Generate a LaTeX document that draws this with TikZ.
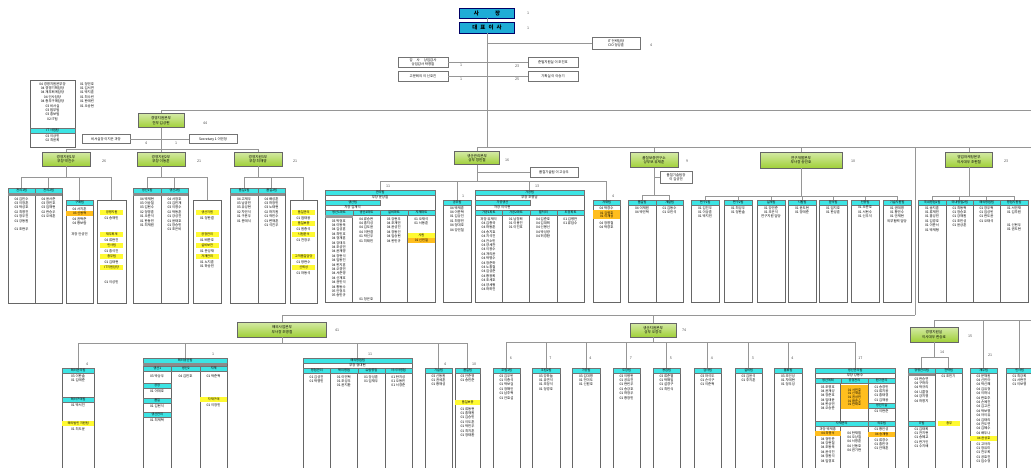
\documentclass[tikz,border=0pt]{standalone}
\usepackage{fontspec}
\setmainfont{Noto Sans CJK KR}

\definecolor{topblue}{RGB}{30,172,214}
\definecolor{hdrcyan}{RGB}{60,228,228}
\definecolor{divgreen}{RGB}{160,208,56}
\definecolor{hiyellow}{RGB}{255,250,50}
\definecolor{hiorange}{RGB}{255,190,30}
\definecolor{wiregray}{RGB}{150,150,150}

\tikzset{
  txt/.style={font=\fontsize{3.4}{3.8}\selectfont, inner sep=0pt, text=black},
  num/.style={font=\fontsize{3.6}{4}\selectfont, inner sep=0pt, text=black!70},
  ceobox/.style={draw=blue!40!black, fill=topblue, minimum width=55pt, minimum height=10pt, inner sep=0pt, font=\fontsize{5.5}{6}\selectfont\bfseries},
  divbox/.style={draw=black!60, top color=divgreen!45!white, bottom color=divgreen, align=center, inner sep=0pt, minimum height=14pt, font=\fontsize{3.6}{4.4}\selectfont},
  staffbox/.style={draw=black!55, fill=white, align=center, inner sep=0pt, minimum height=10pt, font=\fontsize{3.4}{4}\selectfont},
  colbox/.style={draw=black!60, fill=white, inner sep=0pt, line width=0.5pt},
  hdrbox/.style={draw=black!55, fill=hdrcyan, inner sep=0pt, minimum height=5pt, font=\fontsize{3.2}{3.6}\selectfont},
  hibox/.style={inner sep=0pt, minimum height=5pt, align=center, font=\fontsize{3.2}{3.6}\selectfont},
  wire/.style={draw=wiregray, line width=0.6pt},
  colline/.style={draw=black!60, line width=0.4pt},
}

% a team column with its cyan header
\newcommand{\teamcol}[6]{%
  \node[colbox, anchor=north west, minimum width=#4pt, minimum height=#5pt] (#1) at (#2,#3) {};
  \node[hdrbox, anchor=north west, minimum width=#4pt] (#1h) at (#2,#3) {#6};}
% a coloured bar inside a column
\newcommand{\hibar}[6]{%
  \node[hibox, fill=#5, anchor=north west, minimum width=#4pt] (#1) at (#2,#3) {#6};}
% the staff lines of a column
\newcommand{\members}[4]{%
  \foreach \nm [count=\k] in {#4}
    \node[txt, anchor=north] (#1-\k) at (#2,{#3+(\k-1)*4.4}) {\nm};}

\begin{document}
\begin{tikzpicture}[x=1pt, y=-1pt]
        \fill[white] (0,0) rectangle (1031,467);
        \useasboundingbox (0,0) rectangle (1031,467);

        % Top management
        \node[ceobox] (pres) at (487,13) {사\hspace{16pt}장};
        \node[num] (pres-n) at (528,13) {1};
        \node[ceobox, minimum height=11pt] (ceo) at (487,27.5) {대\hspace{3pt}표\hspace{3pt}이\hspace{3pt}사};
        \node[num] (ceo-n) at (528,28) {1};

        % Staff of the CEO
        \node[staffbox, minimum width=48pt, minimum height=12pt] (cio) at (616,43) {IT 전략담당\\CIO 정성훈};
        \node[num] (cio-n) at (651,45) {4};
        \node[staffbox, minimum width=50pt] (audit) at (423,62) {감\hspace{4pt}사\hspace{4pt}상임감사\\상임감사 박영철};
        \node[staffbox, minimum width=50pt] (advisor) at (423,76) {고문회의 이 신호진};
        \node[staffbox, minimum width=50pt] (ethics) at (553,62) {준법지원실 이 조진호};
        \node[staffbox, minimum width=50pt] (planning) at (553,76) {기획실 이 이승기};
        \node[num] (audit-n) at (461,65) {1};
        \node[num] (advisor-n) at (461,79) {1};
        \node[num] (ethics-n) at (517,66) {23};
        \node[num] (planning-n) at (517,79) {25};

        % Trunk and main buses
        \coordinate (top-bus) at (487,110);
        \coordinate (mid-bus) at (487,147);
        \coordinate (top-end) at (1031,110);
        \coordinate (mid-end) at (1031,147);
        \coordinate (down-top) at (915,147);
        \coordinate (down-bot) at (915,315);
        \draw[wire] (pres) -- (ceo);
        \draw[wire] (ceo) -- (mid-bus);
        \draw[wire] (cio.west) -- (cio.west -| ceo.south);
        \draw[wire] (audit) -- (ethics);
        \draw[wire] (advisor) -- (planning);
        \draw[wire] (top-bus) -- (top-end);
        \draw[wire] (mid-bus) -- (mid-end);
        \draw[wire] (down-top) -- (down-bot);

        % Legend of the management division
        \node[colbox, anchor=north west, minimum width=45pt, minimum height=67pt] (legend) at (30,80) {};
        \members{leg}{52.5}{82}{04 경영지원본부장, 04 경영기획담당, 04 재무회계담당, 04 인사담당, 04 총무구매담당, 03 비서실, 03 법무팀, 03 홍보팀, 02 IT팀}
        \node[hdrbox, anchor=north west, minimum width=45pt] (leg-hdr) at (30,128) {IT 사업팀};
        \members{legb}{52.5}{134}{03 이상민, 02 최윤희}
        \members{legr}{87}{82}{01 정민호, 01 김서연, 01 박지훈, 01 최수빈, 01 한예린, 01 오승현}

        % Management division
        \node[divbox, minimum width=46pt] (mgmt) at (161,120.5) {경영지원본부\\전무 김상현};
        \node[num] (mgmt-n) at (205,123) {44};
        \draw[wire] (top-bus) -| (mgmt);
        \node[staffbox, minimum width=48pt, minimum height=9pt] (secchief) at (106,139) {비서실장 이지은 과장};
        \node[staffbox, minimum width=48pt, minimum height=9pt] (secy) at (213,139) {Secretary 1 이민정};
        \draw[wire] (secchief) -- (secy);
        \node[num] (secchief-n) at (146,143) {4};
        \node[num] (secy-n) at (176,143) {1};

        \node[divbox, minimum width=48pt] (sd1) at (66,159) {경영지원1부\\부장 박진수};
        \node[divbox, minimum width=48pt] (sd2) at (161,159) {경영지원2부\\부장 이동훈};
        \node[divbox, minimum width=48pt] (sd3) at (258,159) {경영지원3부\\부장 최재영};
        \node[num] (sd1-n) at (104,161) {26};
        \node[num] (sd2-n) at (199,161) {21};
        \node[num] (sd3-n) at (295,161) {21};
        \coordinate (bus-sd) at (161,149);
        \draw[wire] (mgmt) -- (sd2);
        \draw[wire] (bus-sd) -| (sd1);
        \draw[wire] (bus-sd) -| (sd3);

        % Teams of the first department
        \teamcol{a1}{8}{188}{27}{115}{관리1팀}
        \teamcol{a2}{35}{188}{27}{115}{관리2팀}
        \node[hibox, fill=black!45, anchor=north west, minimum width=54pt, minimum height=2.5pt] (a-gray) at (8,193) {};
        \members{a1}{21.5}{197}{04 김민수, 03 이정훈, 03 박성호, 02 최영진, 01 정우진, 01 강동원}
        \members{a1b}{21.5}{227}{01 조현우}
        \members{a2}{48.5}{197}{04 윤서준, 03 장민호, 03 임재현, 02 한승우, 01 오세훈}
        \teamcol{a3}{66}{200}{27}{103}{구매팀}
        \members{a3}{79.5}{207}{04 서지훈}
        \hibar{a3o}{66}{211}{27}{hiorange}{03 신동혁}
        \members{a3b}{79.5}{217}{04 권혁준, 04 황보람}
        \members{a3c}{79.5}{232}{과장 안성민}
        \node[colbox, anchor=north west, minimum width=29pt, minimum height=103pt] (a4) at (97,200) {};
        \hibar{a4y1}{100}{210}{23}{hiyellow}{경영지원}
        \members{a4a}{111.5}{216}{01 송재민}
        \hibar{a4y2}{100}{232}{23}{hiyellow}{재무회계}
        \members{a4b}{111.5}{238}{04 류현진}
        \hibar{a4y3}{100}{243}{23}{hiyellow}{인사팀}
        \members{a4c}{111.5}{249}{01 홍석진}
        \hibar{a4y4}{100}{254}{23}{hiyellow}{총무팀}
        \members{a4d}{111.5}{260}{01 김태현}
        \hibar{a4y5}{100}{265}{23}{hiyellow}{IT지원담당}
        \members{a4e}{111.5}{280}{01 이성민}
        \coordinate (bus-a) at (66,177);
        \draw[wire] (sd1) -- (bus-a);
        \draw[wire] (bus-a) -| (a1h);
        \draw[wire] (bus-a) -| (a2h);
        \draw[wire] (bus-a) -| (a3h);
        \draw[wire] (bus-a) -| (a4);

        % Teams of the second department
        \teamcol{b1}{133}{188}{28}{115}{생산1팀}
        \teamcol{b2}{161}{188}{27}{115}{생산2팀}
        \node[hibox, fill=black!45, anchor=north west, minimum width=55pt, minimum height=2.5pt] (b-gray) at (133,193) {};
        \members{b1}{147}{197}{04 박재현, 03 이승철, 03 김현수, 02 정영훈, 01 오준석, 01 한동민, 01 최재원}
        \members{b2}{174.5}{197}{04 서정호, 03 김민재, 03 이영수, 02 박동훈, 01 강성진, 01 윤태호, 01 장승민, 01 조은비}
        \node[colbox, anchor=north west, minimum width=28pt, minimum height=103pt] (b3) at (193,200) {};
        \hibar{b3y1}{195.5}{210}{23}{hiyellow}{생산지원}
        \members{b3a}{207}{216}{01 정한결}
        \hibar{b3y2}{195.5}{232}{23}{hiyellow}{공정관리}
        \members{b3b}{207}{238}{01 배준호}
        \hibar{b3y3}{195.5}{243}{23}{hiyellow}{설비보전}
        \members{b3c}{207}{249}{01 문성재}
        \hibar{b3y4}{195.5}{254}{23}{hiyellow}{자재관리}
        \members{b3d}{207}{260}{01 노지훈, 01 하승민}
        \coordinate (bus-b) at (161,177);
        \draw[wire] (sd2) -- (bus-b);
        \draw[wire] (bus-b) -| (b1h);
        \draw[wire] (bus-b) -| (b2h);
        \draw[wire] (bus-b) -| (b3);

        % Teams of the third department
        \teamcol{c1}{230}{188}{28}{115}{품질1팀}
        \teamcol{c2}{258}{188}{27}{115}{품질2팀}
        \node[hibox, fill=black!45, anchor=north west, minimum width=55pt, minimum height=2.5pt] (c-gray) at (230,193) {};
        \members{c1}{244}{197}{04 고재우, 03 남궁민, 03 유성현, 02 차민석, 01 구본우, 01 문태식}
        \members{c2}{271.5}{197}{04 배성훈, 03 허정민, 03 노태현, 02 하지원, 01 곽민수, 01 변재훈, 01 석진우}
        \node[colbox, anchor=north west, minimum width=27pt, minimum height=103pt] (c3) at (290,200) {};
        \hibar{c3y1}{292}{210}{23}{hiyellow}{품질관리}
        \members{c3a}{303.5}{216}{01 엄태웅}
        \hibar{c3y2}{292}{221}{23}{hiyellow}{품질보증}
        \members{c3b}{303.5}{227}{01 원종석}
        \hibar{c3y3}{292}{232}{23}{hiyellow}{시험분석}
        \members{c3c}{303.5}{238}{01 천정우}
        \hibar{c3y4}{292}{254}{23}{hiyellow}{고객품질담당}
        \members{c3d}{303.5}{260}{01 방현수}
        \hibar{c3y5}{292}{265}{23}{hiyellow}{신뢰성}
        \members{c3e}{303.5}{271}{01 마동석}
        \coordinate (bus-c) at (258,177);
        \draw[wire] (sd3) -- (bus-c);
        \draw[wire] (bus-c) -| (c1h);
        \draw[wire] (bus-c) -| (c2h);
        \draw[wire] (bus-c) -| (c3);

        % Production division
        \node[divbox, minimum width=45pt, minimum height=13pt] (prod) at (477,158) {생산관리본부\\상무 정민철};
        \node[num] (prod-n) at (507,160) {16};
        \draw[wire] (mid-bus) -| (prod);
        \node[staffbox, minimum width=48pt, minimum height=10pt] (qa) at (554,172) {품질기술팀 이 고상우};
        \draw[wire] (qa.west) -- (qa.west -| prod.south);

        \node[colbox, anchor=north west, minimum width=110pt, minimum height=112pt] (d1) at (325,190) {};
        \draw[colline] (352.5,215) -- (352.5,302);
        \draw[colline] (380,215) -- (380,302);
        \draw[colline] (407.5,215) -- (407.5,302);
        \node[hdrbox, anchor=north west, minimum width=110pt] (d1h) at (325,190) {관리팀};
        \node[txt] (d1-head) at (380,197.5) {부장 윤상철};
        \node[hdrbox, anchor=north west, minimum width=55pt] (d1s) at (325,200) {생산팀};
        \node[txt] (d1s-head) at (352.5,207.5) {차장 김재석};
        \node[hdrbox, anchor=north west, minimum width=27.5pt] (d1c1) at (325,210) {생산1파트};
        \node[hdrbox, anchor=north west, minimum width=27.5pt] (d1c2) at (352.5,210) {생산2파트};
        \node[hdrbox, anchor=north west, minimum width=27.5pt] (d1c3) at (380,210) {설비파트};
        \node[hdrbox, anchor=north west, minimum width=27.5pt] (d1c4) at (407.5,210) {자재파트};
        \node[hibox, fill=black!40, anchor=north west, minimum width=27.5pt, minimum height=3pt] (d1g) at (325,215) {};
        \members{d1a}{338.75}{219}{03 박정호, 04 이동욱, 04 김성훈, 04 최민호, 04 정재훈, 04 강태우, 04 조성민, 04 윤재영, 04 장현석, 04 임동진, 04 한지훈, 04 오경민, 04 서준영, 04 신재호, 04 권민석, 04 황동수, 05 안정우, 05 송민규}
        \members{d1b}{366.25}{217}{04 류승완, 04 홍지성, 04 김도윤, 04 이한결, 01 박선우, 01 최태민}
        \members{d1b2}{366.25}{297}{01 정은호}
        \members{d1c}{393.75}{217}{03 강현우, 04 조재민, 04 윤성진, 04 장동건, 04 임승현, 04 한민규}
        \members{d1d}{421.25}{217}{01 오재석, 01 서동훈}
        \hibar{d1y}{407.5}{233}{27.5}{hiyellow}{사원}
        \hibar{d1o}{407.5}{238}{27.5}{hiorange}{01 신민철}

        \teamcol{d2}{443}{200}{28}{102}{공무팀}
        \members{d2}{457}{206}{04 박재훈, 04 이준혁, 01 김상진, 01 최영민, 04 정대호, 04 강민철}

        \node[colbox, anchor=north west, minimum width=109pt, minimum height=112pt] (d3) at (475,190) {};
        \draw[colline] (502.25,215) -- (502.25,302);
        \draw[colline] (529.5,215) -- (529.5,302);
        \draw[colline] (556.75,215) -- (556.75,302);
        \node[hdrbox, anchor=north west, minimum width=109pt] (d3h) at (475,190) {가공팀};
        \node[txt] (d3-head) at (529.5,197.5) {부장 조영남};
        \node[hdrbox, anchor=north west, minimum width=54.5pt] (d3s) at (475,200) {가공생산};
        \node[txt] (d3s-head) at (502.25,207.5) {차장 이석현};
        \node[hdrbox, anchor=north west, minimum width=27.25pt] (d3c1) at (475,210) {가공1파트};
        \node[hdrbox, anchor=north west, minimum width=27.25pt] (d3c2) at (502.25,210) {가공2파트};
        \node[hdrbox, anchor=north west, minimum width=27.25pt] (d3c3) at (529.5,210) {열처리};
        \node[hdrbox, anchor=north west, minimum width=27.25pt] (d3c4) at (556.75,210) {도장파트};
        \members{d3a}{488.6}{217}{과장 유재석, 04 김종국, 04 하동훈, 04 송지효, 04 지석진, 04 전소민, 04 양세찬, 04 이광수, 04 개리윤, 04 박명수, 04 정준하, 04 노홍철, 04 길성준, 04 황광희, 04 조세호, 04 양세형, 04 하하진}
        \members{d3b}{515.9}{217}{01 남창희, 01 이용진, 01 이진호}
        \members{d3c}{543.1}{217}{04 김준호, 04 김대희, 04 신봉선, 04 박성광, 04 허경환}
        \members{d3d}{570.4}{217}{01 김병만, 01 류담수}

        \teamcol{d4}{593}{200}{27}{102}{자재팀}
        \members{d4a}{606.5}{206}{04 박경수}
        \node[hibox, fill=hiorange, anchor=north west, minimum width=27pt, minimum height=9pt] (d4o) at (593,210) {01 김영호\\01 이재성};
        \members{d4b}{606.5}{221}{04 정영철, 04 박경호}

        \coordinate (bus-d) at (477,181);
        \draw[wire] (prod) -- (bus-d);
        \draw[wire] (bus-d) -| (d1h);
        \draw[wire] (bus-d) -| (d2h);
        \draw[wire] (bus-d) -| (d3h);
        \draw[wire] (bus-d) -| (d4h);
        \node[num] (d1-n) at (388,186) {11};
        \node[num] (d2-n) at (463,196) {1};
        \node[num] (d3-n) at (537,186) {13};
        \node[num] (d4-n) at (613,196) {4};

        % Quality institute
        \node[divbox, minimum width=48pt, minimum height=15pt] (qual) at (654,160) {품질보증연구소\\상무보 유재훈};
        \node[num] (qual-n) at (687,161) {9};
        \draw[wire] (mid-bus) -| (qual);
        \node[staffbox, minimum width=32pt, minimum height=12pt] (qtech) at (676,177) {품질기술팀장\\이 김성민};
        \draw[wire] (qtech.west) -- (qtech.west -| qual.south);
        \teamcol{e1}{628}{200}{28}{102}{품질팀}
        \teamcol{e2}{656}{200}{27}{102}{개발팀}
        \members{e1}{642}{206}{04 이재원, 04 박민혁}
        \members{e2}{669.5}{206}{01 김동수, 01 오민석}
        \coordinate (bus-e) at (654,195);
        \draw[wire] (qual) -- (bus-e);
        \draw[wire] (bus-e) -| (e1h);
        \draw[wire] (bus-e) -| (e2h);

        % R&D division
        \node[divbox, minimum width=82pt, minimum height=16pt] (rnd) at (801,160) {연구개발본부\\부사장 송민호};
        \node[num] (rnd-n) at (853,161) {10};
        \draw[wire] (mid-bus) -| (rnd);
        \teamcol{f1}{691}{200}{28}{102}{연구1팀}
        \teamcol{f2}{724}{200}{28}{102}{연구2팀}
        \teamcol{f3}{757}{200}{28}{102}{설계팀}
        \teamcol{f4}{788}{200}{28}{102}{시험팀}
        \teamcol{f5}{819}{200}{28}{102}{분석팀}
        \teamcol{f6}{851}{200}{28}{102}{인증팀}
        \teamcol{f7}{883}{200}{28}{102}{기술지원팀}
        \members{f1}{705}{206}{01 김진우, 01 이상훈, 01 박지민}
        \members{f2}{738}{206}{01 최성우, 01 정한솔}
        \members{f3}{771}{206}{01 강민준, 01 조은석, 연구지원 담당}
        \members{f4}{802}{206}{01 윤도현, 01 장태준}
        \members{f5}{833}{206}{01 임지호, 01 한성훈}
        \members{f6}{865}{206}{01 오준호, 01 서현수, 01 신우석}
        \members{f7}{897}{206}{01 권태영, 01 황민수, 01 안재현, 외부협력 담당}
        \coordinate (bus-f) at (801,196);
        \draw[wire] (rnd) -- (bus-f);
        \foreach \t in {f1h,f2h,f3h,f4h,f5h,f6h,f7h}
          \draw[wire] (bus-f) -| (\t);

        % Sales division
        \node[divbox, minimum width=47pt, minimum height=15pt] (sales) at (969,159.5) {영업마케팅본부\\이사대우 조현철};
        \node[num] (sales-n) at (1006,161) {23};
        \draw[wire] (mid-bus) -| (sales);
        \teamcol{g1}{918}{200}{28}{102}{국내영업1팀}
        \teamcol{g2}{946}{200}{27}{102}{국내영업2팀}
        \teamcol{g3}{973}{200}{27}{102}{해외영업팀}
        \teamcol{g4}{1000}{200}{28}{102}{영업지원팀}
        \members{g1}{932}{206}{01 송지훈, 01 류재민, 01 홍성민, 01 김경호, 01 이준서, 01 박재형}
        \members{g2}{959.5}{206}{01 최동혁, 01 정승호, 01 강재원, 01 조민성, 01 윤상훈}
        \members{g3}{986.5}{206}{01 장우혁, 01 임성빈, 01 한도윤, 01 오태석}
        \members{g4}{1014}{206}{01 서민재, 01 김주원}
        \members{g4b}{1014}{223}{01 신현우, 01 권도현}
        \coordinate (bus-g) at (969,196);
        \draw[wire] (sales) -- (bus-g);
        \foreach \t in {g1h,g2h,g3h,g4h}
          \draw[wire] (bus-g) -| (\t);

        % Overseas division
        \node[divbox, minimum width=89pt, minimum height=15pt] (ovs) at (282,329.5) {해외사업본부\\부사장 조병철};
        \node[num] (ovs-n) at (337,330) {41};
        \draw[wire] (down-bot) -| (ovs);

        \teamcol{h1}{62}{368}{32}{102}{해외관리팀}
        \members{h1}{78}{374}{03 이한솔, 01 김예준}
        \node[hdrbox, anchor=north west, minimum width=32pt] (h1b) at (62,397) {해외구매팀};
        \members{h1b}{78}{403}{01 박서진}
        \hibar{h1y}{62}{421}{32}{hiyellow}{해외법인 지원팀}
        \members{h1c}{78}{427}{01 최도윤}

        \node[colbox, anchor=north west, minimum width=84pt, minimum height=110pt] (h2) at (143,358) {};
        \draw[colline] (171,371) -- (171,468);
        \draw[colline] (200,371) -- (200,468);
        \node[hdrbox, anchor=north west, minimum width=84pt] (h2h) at (143,358) {해외생산팀};
        \node[hibox, fill=black!45, anchor=north west, minimum width=84pt, minimum height=3pt] (h2g) at (143,363) {};
        \node[hdrbox, anchor=north west, minimum width=28pt] (h2c1) at (143,366) {생산1};
        \node[hdrbox, anchor=north west, minimum width=29pt] (h2c2) at (171,366) {생산2};
        \node[hdrbox, anchor=north west, minimum width=27pt] (h2c3) at (200,366) {자재};
        \members{h2a}{157}{374}{03 박상우}
        \node[hdrbox, anchor=north west, minimum width=28pt] (h2b1) at (143,383) {공정};
        \members{h2b}{157}{389}{01 이태호}
        \node[hdrbox, anchor=north west, minimum width=28pt] (h2b2) at (143,398) {품질};
        \members{h2c}{157}{404}{01 김현석}
        \node[hdrbox, anchor=north west, minimum width=28pt] (h2b3) at (143,412) {생산관리};
        \members{h2d}{157}{418}{01 최재혁}
        \members{h2e}{185.5}{374}{04 김민호}
        \members{h2f}{213.5}{374}{01 박준혁}
        \hibar{h2y}{200}{397}{27}{hiyellow}{자재구매}
        \members{h2g}{213.5}{403}{01 이정민}

        \node[colbox, anchor=north west, minimum width=109pt, minimum height=110pt] (h3) at (303,358) {};
        \draw[colline] (330.25,373) -- (330.25,468);
        \draw[colline] (357.5,373) -- (357.5,468);
        \draw[colline] (384.75,373) -- (384.75,468);
        \node[hdrbox, anchor=north west, minimum width=109pt] (h3h) at (303,358) {해외영업팀};
        \node[txt] (h3-head) at (357.5,365.5) {부장 정대현};
        \node[hdrbox, anchor=north west, minimum width=27.25pt] (h3c1) at (303,368) {영업관리};
        \node[hdrbox, anchor=north west, minimum width=27.25pt] (h3c2) at (330.25,368) {북미영업};
        \node[hdrbox, anchor=north west, minimum width=27.25pt] (h3c3) at (357.5,368) {유럽영업};
        \node[hdrbox, anchor=north west, minimum width=27.25pt] (h3c4) at (384.75,368) {아시아영업};
        \members{h3a}{316.6}{375}{01 김성진, 01 박영민}
        \members{h3b}{343.9}{375}{01 이민혁, 01 조성우, 01 윤지환}
        \members{h3c}{371.1}{375}{01 장성훈, 01 임재우}
        \members{h3d}{398.4}{375}{01 한지성, 01 오동민, 01 서경준}

        \teamcol{h4}{425}{368}{27}{100}{기술팀}
        \members{h4}{438.5}{374}{03 신동원, 01 권세훈, 01 황재성}
        \teamcol{h5}{455}{368}{25}{100}{품질팀}
        \members{h5}{467.5}{374}{03 안준영, 01 송민준}
        \hibar{h5y}{455}{400}{25}{hiyellow}{품질보증}
        \members{h5b}{467.5}{407}{01 류동현, 01 홍재원, 01 김승민, 01 이도훈, 01 박민우, 01 최지훈, 01 정태환}

        \coordinate (bus-h) at (282,343);
        \draw[wire] (ovs) -- (bus-h);
        \foreach \t in {h1h,h2h,h3h,h4h,h5h}
          \draw[wire] (bus-h) -| (\t);
        \node[num] (h1-n) at (87,364) {4};
        \node[num] (h2-n) at (213,354) {1};
        \node[num] (h3-n) at (370,354) {11};
        \node[num] (h4-n) at (445,364) {4};
        \node[num] (h5-n) at (474,364) {10};

        % Production support division
        \node[divbox, minimum width=46pt, minimum height=14pt] (prod2) at (653,330) {생산지원본부\\상무 오정석};
        \node[num] (prod2-n) at (684,330) {74};
        \draw[wire] (down-bot) -| (prod2);

        \teamcol{i1}{493}{368}{27}{100}{조립1팀}
        \teamcol{i2}{532}{368}{28}{100}{조립2팀}
        \teamcol{i3}{572}{368}{28}{100}{가공팀}
        \teamcol{i4}{613}{368}{27}{100}{도장팀}
        \teamcol{i5}{653}{368}{27}{100}{용접팀}
        \teamcol{i6}{694}{368}{27}{100}{검사팀}
        \teamcol{i7}{735}{368}{27}{100}{설비팀}
        \teamcol{i8}{774}{368}{28}{100}{물류팀}
        \members{i1}{506.5}{374}{03 김우빈, 01 이종석, 01 박보검, 01 정해인, 01 남주혁, 01 안효섭}
        \members{i2}{546}{374}{03 강하늘, 01 유연석, 01 조정석, 01 정경호}
        \members{i3}{586}{374}{03 김대명, 01 전미도, 01 신원호}
        \members{i4}{626.5}{374}{03 이병헌, 01 공유진, 01 현빈우, 01 송강호, 01 하정우, 01 황정민}
        \members{i5}{666.5}{374}{03 류준열, 01 박해일, 01 설경구, 01 최민식}
        \members{i6}{707.5}{374}{03 마석도, 01 손석구, 01 이준혁}
        \members{i7}{748.5}{374}{03 김윤석, 01 주지훈}
        \members{i8}{788}{374}{03 조인성, 01 차태현, 01 정우성}

        \node[colbox, anchor=north west, minimum width=80pt, minimum height=100pt] (i9) at (815,368) {};
        \draw[colline] (840.5,383) -- (840.5,421);
        \draw[colline] (840.5,426) -- (840.5,468);
        \draw[colline] (868,383) -- (868,468);
        \node[hdrbox, anchor=north west, minimum width=80pt] (i9h) at (815,368) {생산관리팀};
        \node[txt] (i9-head) at (855,375.5) {부장 강동수};
        \node[hdrbox, anchor=north west, minimum width=25.5pt] (i9c1) at (815,378) {생산계획};
        \node[hdrbox, anchor=north west, minimum width=27.5pt] (i9c2) at (840.5,378) {공정관리};
        \node[hdrbox, anchor=north west, minimum width=27pt] (i9c3) at (868,378) {원가관리};
        \members{i9a}{827.75}{385}{03 조영호, 04 윤재성, 04 장준호, 04 임태윤, 04 한상민, 04 오승준}
        \node[hibox, fill=hiorange, anchor=north west, minimum width=27.5pt, minimum height=24pt] (i9o) at (840.5,385) {01 서민호\\01 신재훈\\01 권성민\\01 황준수\\01 안태호};
        \members{i9c}{881.5}{385}{01 송경민, 01 류지웅, 01 홍태경, 01 김재웅}
        \node[hdrbox, anchor=north west, minimum width=27pt] (i9b) at (868,403) {생산기술};
        \members{i9d}{881.5}{409}{01 이현준}
        \node[hdrbox, anchor=north west, minimum width=53pt] (i9l1) at (815,421) {자재관리};
        \node[hdrbox, anchor=north west, minimum width=27pt] (i9l2) at (868,421) {외주팀};
        \members{i9e}{827.75}{427}{과장 박재홍}
        \hibar{i9o2}{815}{431}{25.5}{hiorange}{04 최영석}
        \members{i9f}{827.75}{437}{04 정민준, 04 강현철, 04 조동욱, 04 윤석진, 04 장원석, 04 임경호}
        \members{i9g}{854.25}{431}{04 한재필, 04 오상철, 04 서영훈, 04 신동호, 04 권기현}
        \members{i9i}{881.5}{427}{01 황인성}
        \hibar{i9o3}{868}{432}{27}{hiorange}{04 송재형}
        \members{i9j}{881.5}{438}{01 류경수, 01 홍민규, 01 안재훈}

        \coordinate (bus-i) at (653,342);
        \draw[wire] (prod2) -- (bus-i);
        \foreach \t/\n [count=\c] in {i1h/6,i2h/7,i3h/4,i4h/7,i5h/5,i6h/4,i7h/3,i8h/4,i9h/17}{
          \draw[wire] (bus-i) -| (\t);
          \node[num, anchor=west] (i-n\c) at ([xshift=3pt, yshift=10pt]\t.north) {\n};
        }

        % Planning office
        \node[divbox, minimum width=48pt, minimum height=15pt] (plan2) at (934,334.5) {경영지원실\\이사대우 한승호};
        \node[num] (plan2-n) at (970,336) {15};
        \coordinate (bus-m0) at (934,320);
        \coordinate (bot-end) at (1031,320);
        \draw[wire] (bus-m0) -- (bot-end);
        \draw[wire] (bus-m0) -- (plan2);

        \teamcol{m1}{908}{368}{27}{100}{경영관리팀}
        \teamcol{m2}{935}{368}{27}{100}{전략팀}
        \node[hibox, fill=black!45, anchor=north west, minimum width=27pt, minimum height=3pt] (m1g) at (908,373) {};
        \members{m1}{921.5}{377}{03 한승연, 04 구하라, 04 박규리, 04 니콜정, 04 강지영, 04 허영지}
        \node[hdrbox, anchor=north west, minimum width=27pt] (m1b) at (908,421) {IT팀};
        \members{m1b}{921.5}{427}{01 김태희, 01 전지현, 01 송혜교, 01 한가인, 01 수지배}
        \members{m2}{948.5}{374}{01 조민기}
        \hibar{m2y}{938}{421}{22}{hiyellow}{총무}
        \teamcol{m3}{970}{368}{27}{100}{재무팀}
        \members{m3}{983.5}{374}{03 문채원, 04 신민아, 04 박신혜, 04 김유정, 04 이하늬, 04 한효주, 04 손예진, 04 김고은, 04 박보영, 04 아이유, 04 김태리, 04 전도연, 04 김혜수, 04 배두나}
        \hibar{m3y}{970}{436}{27}{hiyellow}{04 윤성호}
        \members{m3b}{983.5}{442}{01 고아라, 01 정유미, 01 천우희, 01 공효진, 01 임수정}
        \teamcol{m4}{1006}{368}{27}{100}{인사팀}
        \members{m4}{1019.5}{374}{01 최강희, 01 서현진, 01 이보영}

        \coordinate (bus-m) at (934,357);
        \draw[wire] (plan2) -- (bus-m);
        \draw[wire] (bus-m) -| (m1h);
        \draw[wire] (bus-m) -| (m2h);
        \draw[wire] (bus-m0) -| (m3h);
        \draw[wire] (bus-m0) -| (m4h);
        \node[num] (m-n) at (942,352) {14};
        \node[num] (m3-n) at (990,355) {21};
\end{tikzpicture}
\end{document}
